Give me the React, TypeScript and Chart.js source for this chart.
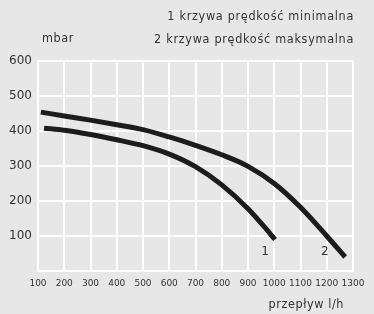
import React, { useEffect, useRef } from "react";
import { Chart, registerables } from "chart.js";

Chart.register(...registerables);

const curve1X = [123, 200, 300, 400, 500, 600, 700, 800, 900, 960, 1003];
const curve1Y = [408, 402, 390, 375, 358, 334, 298, 246, 178, 128, 90];
const curve2X = [111, 200, 300, 400, 500, 600, 700, 800, 900, 1000, 1100, 1200, 1270];
const curve2Y = [454, 443, 431, 418, 404, 383, 359, 332, 299, 250, 182, 100, 40];
const curveLabels = ["1", "2"];
const curveLabelX = [965, 1193];
const curveLabelY = [55, 55];
const legendLines = ["1 krzywa prędkość minimalna", "2 krzywa prędkość maksymalna"];
const yUnit = "mbar";
const xUnit = "przepływ l/h";
const xTicks = [100, 200, 300, 400, 500, 600, 700, 800, 900, 1000, 1100, 1200, 1300];
const yTicks = [100, 200, 300, 400, 500, 600];

const FONT = '"DejaVu Sans", "Liberation Sans", sans-serif';
const FONT_C = '"DejaVu Sans Condensed", "Liberation Sans Narrow", "DejaVu Sans", sans-serif';
const TEXT = "#333333";
const BG = "#e7e7e8";

const textPlugin = {
  id: "texts",
  beforeDraw(chart: any) {
    const ctx = chart.ctx;
    ctx.save();
    ctx.fillStyle = BG;
    ctx.fillRect(0, 0, chart.width, chart.height);
    ctx.restore();
  },
  afterDraw(chart: any) {
    const ctx = chart.ctx;
    const a = chart.chartArea;
    const xs = chart.scales.x;
    const ys = chart.scales.y;
    ctx.save();
    ctx.fillStyle = TEXT;
    ctx.font = `12.5px ${FONT_C}`;
    ctx.textBaseline = "middle";
    ctx.textAlign = "right";
    (ctx as any).letterSpacing = "0.7px";
    ctx.fillText(legendLines[0], a.right + 1, a.top - 44);
    ctx.fillText(legendLines[1], a.right + 1, a.top - 21);
    ctx.textAlign = "left";
    (ctx as any).letterSpacing = "0.6px";
    ctx.fillText(yUnit, a.left + 4, a.top - 22);
    ctx.textAlign = "right";
    (ctx as any).letterSpacing = "0.6px";
    ctx.fillText(xUnit, a.right - 9, chart.height - 9);
    (ctx as any).letterSpacing = "0px";
    ctx.font = `12px ${FONT}`;
    ctx.textAlign = "center";
    curveLabels.forEach((l, i) => {
      ctx.fillText(l, xs.getPixelForValue(curveLabelX[i]), ys.getPixelForValue(curveLabelY[i]));
    });
    ctx.restore();
  },
};

export default function App() {
  const ref = useRef<HTMLCanvasElement | null>(null);
  useEffect(() => {
    document.body.style.margin = "0";
    const chart = new Chart(ref.current as HTMLCanvasElement, {
      type: "line",
      data: {
        datasets: [
          {
            data: curve1X.map((x, i) => ({ x, y: curve1Y[i] })),
            borderColor: "#1c1c1c",
            borderWidth: 5,
            pointRadius: 0,
            cubicInterpolationMode: "monotone",
          },
          {
            data: curve2X.map((x, i) => ({ x, y: curve2Y[i] })),
            borderColor: "#1c1c1c",
            borderWidth: 5,
            pointRadius: 0,
            cubicInterpolationMode: "monotone",
          },
        ],
      },
      options: {
        animation: false,
        responsive: false,
        layout: { padding: { top: 61, right: 21, left: 0, bottom: 0 } },
        plugins: { legend: { display: false }, tooltip: { enabled: false }, title: { display: false } },
        scales: {
          x: {
            type: "linear",
            min: 100,
            max: 1300,
            afterBuildTicks(s: any) {
              s.ticks = xTicks.map((v) => ({ value: v }));
            },
            afterFit(s: any) {
              s.height = 43;
            },
            grid: { color: "#ffffff", lineWidth: 2, drawTicks: false },
            border: { color: "#ffffff", width: 2 },
            ticks: {
              color: TEXT,
              padding: 7,
              maxRotation: 0,
              autoSkip: false,
              font: { family: FONT, size: 9 },
              callback: (v: any) => String(v),
            },
          },
          y: {
            type: "linear",
            min: 0,
            max: 600,
            afterBuildTicks(s: any) {
              s.ticks = yTicks.map((v) => ({ value: v }));
            },
            afterFit(s: any) {
              s.width = 38;
            },
            grid: { color: "#ffffff", lineWidth: 2, drawTicks: false },
            border: { color: "#ffffff", width: 2 },
            ticks: {
              color: TEXT,
              padding: 6,
              font: { family: FONT, size: 12 },
              callback: (v: any) => String(v),
            },
          },
        },
      },
      plugins: [textPlugin],
    } as any);
    return () => chart.destroy();
  }, []);
  return <canvas ref={ref} width={374} height={314} style={{ display: "block" }} />;
}
